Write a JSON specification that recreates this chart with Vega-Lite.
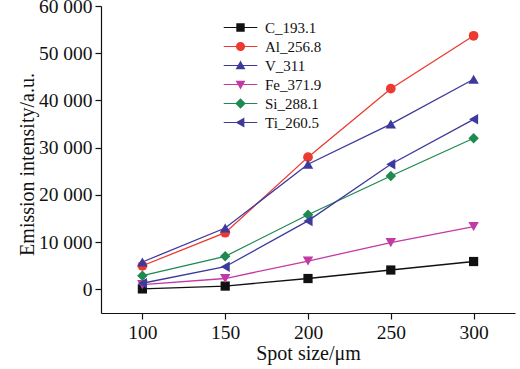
{
  "$schema": "https://vega.github.io/schema/vega-lite/v6.json",
  "width": 414,
  "height": 307,
  "autosize": {"type": "none"},
  "padding": {"left": 101, "top": 6, "right": 5, "bottom": 56},
  "background": "white",
  "config": {
    "view": {"stroke": null},
    "font": "Liberation Serif",
    "axis": {
      "domainColor": "#111",
      "tickColor": "#111",
      "domainWidth": 1.2,
      "tickWidth": 1.2,
      "tickSize": 6,
      "labelFont": "Liberation Serif",
      "labelFontSize": 19.5,
      "labelColor": "#111",
      "labelPadding": 3,
      "titleFont": "Liberation Serif",
      "titleFontSize": 20,
      "titleFontWeight": "normal",
      "titleColor": "#111",
      "grid": false
    },
    "legend": {
      "labelFont": "Liberation Serif",
      "labelFontSize": 15,
      "labelColor": "#111"
    }
  },
  "data": {
    "values": [
      {"s": "C_193.1", "x": 100, "y": 100},
      {"s": "C_193.1", "x": 150, "y": 700},
      {"s": "C_193.1", "x": 200, "y": 2300},
      {"s": "C_193.1", "x": 250, "y": 4100},
      {"s": "C_193.1", "x": 300, "y": 5900},
      {"s": "Al_256.8", "x": 100, "y": 5000},
      {"s": "Al_256.8", "x": 150, "y": 12000},
      {"s": "Al_256.8", "x": 200, "y": 28000},
      {"s": "Al_256.8", "x": 250, "y": 42500},
      {"s": "Al_256.8", "x": 300, "y": 53700},
      {"s": "V_311", "x": 100, "y": 5800},
      {"s": "V_311", "x": 150, "y": 13000},
      {"s": "V_311", "x": 200, "y": 26500},
      {"s": "V_311", "x": 250, "y": 35000},
      {"s": "V_311", "x": 300, "y": 44500},
      {"s": "Fe_371.9", "x": 100, "y": 1000},
      {"s": "Fe_371.9", "x": 150, "y": 2300},
      {"s": "Fe_371.9", "x": 200, "y": 6000},
      {"s": "Fe_371.9", "x": 250, "y": 9900},
      {"s": "Fe_371.9", "x": 300, "y": 13300},
      {"s": "Si_288.1", "x": 100, "y": 2900},
      {"s": "Si_288.1", "x": 150, "y": 7000},
      {"s": "Si_288.1", "x": 200, "y": 15800},
      {"s": "Si_288.1", "x": 250, "y": 24000},
      {"s": "Si_288.1", "x": 300, "y": 32000},
      {"s": "Ti_260.5", "x": 100, "y": 1300},
      {"s": "Ti_260.5", "x": 150, "y": 4800},
      {"s": "Ti_260.5", "x": 200, "y": 14500},
      {"s": "Ti_260.5", "x": 250, "y": 26500},
      {"s": "Ti_260.5", "x": 300, "y": 36000}
    ]
  },
  "encoding": {
    "x": {
      "field": "x", "type": "quantitative",
      "scale": {"domain": [75, 325], "nice": false, "zero": false},
      "axis": {"values": [100, 150, 200, 250, 300], "title": "Spot size/μm", "labelPadding": 4, "titlePadding": 2}
    },
    "y": {
      "field": "y", "type": "quantitative",
      "scale": {"domain": [-5000, 60000], "nice": false, "zero": false},
      "axis": {
        "values": [0, 10000, 20000, 30000, 40000, 50000, 60000],
        "labelExpr": "replace(format(datum.value, ','), ',', ' ')",
        "title": "Emission intensity/a.u.",
        "titlePadding": 1,
        "titleY": 158
      }
    }
  },
  "layer": [
    {
      "mark": {"type": "line", "strokeWidth": 1.3},
      "encoding": {
        "color": {
          "field": "s", "type": "nominal",
          "scale": {
            "domain": ["C_193.1", "Al_256.8", "V_311", "Fe_371.9", "Si_288.1", "Ti_260.5"],
            "range": ["#111111", "#ec3a30", "#3d3a9c", "#c23aa6", "#1f8a50", "#3d3a9c"]
          },
          "legend": {
            "title": null,
            "orient": "none",
            "legendX": 132,
            "legendY": 14,
            "padding": 0,
            "symbolSize": 196,
            "symbolOpacity": 1,
            "symbolStrokeWidth": 0,
            "labelOffset": 17,
            "rowPadding": 3
          }
        },
        "detail": {"field": "s"}
      }
    },
    {
      "transform": [{"filter": "datum.s == 'C_193.1'"}],
      "mark": {"type": "point", "shape": "square", "filled": true, "opacity": 1, "size": 85, "color": "#111111"}
    },
    {
      "transform": [{"filter": "datum.s == 'Al_256.8'"}],
      "mark": {"type": "point", "shape": "circle", "filled": true, "opacity": 1, "size": 95, "color": "#ec3a30"}
    },
    {
      "transform": [{"filter": "datum.s == 'V_311'"}],
      "mark": {"type": "point", "shape": "triangle-up", "filled": true, "opacity": 1, "size": 110, "color": "#3d3a9c"}
    },
    {
      "transform": [{"filter": "datum.s == 'Fe_371.9'"}],
      "mark": {"type": "point", "shape": "triangle-down", "filled": true, "opacity": 1, "size": 110, "color": "#c23aa6"}
    },
    {
      "transform": [{"filter": "datum.s == 'Si_288.1'"}],
      "mark": {"type": "point", "shape": "diamond", "filled": true, "opacity": 1, "size": 110, "color": "#1f8a50"}
    },
    {
      "transform": [{"filter": "datum.s == 'Ti_260.5'"}],
      "mark": {"type": "point", "shape": "triangle-left", "filled": true, "opacity": 1, "size": 110, "color": "#3d3a9c"}
    },
    {
      "mark": {"type": "point", "filled": true, "opacity": 0},
      "encoding": {
        "color": {
          "field": "s", "type": "nominal",
          "scale": {
            "domain": ["C_193.1", "Al_256.8", "V_311", "Fe_371.9", "Si_288.1", "Ti_260.5"],
            "range": ["#111111", "#ec3a30", "#3d3a9c", "#c23aa6", "#1f8a50", "#3d3a9c"]
          },
          "legend": {
            "title": null,
            "orient": "none",
            "legendX": 132,
            "legendY": 14,
            "padding": 0,
            "symbolSize": 196,
            "symbolOpacity": 1,
            "symbolStrokeWidth": 0,
            "labelOffset": 17,
            "rowPadding": 3
          }
        },
        "shape": {
          "field": "s", "type": "nominal",
          "legend": {
            "title": null,
            "orient": "none",
            "legendX": 132,
            "legendY": 14,
            "padding": 0,
            "symbolSize": 196,
            "symbolOpacity": 1,
            "symbolStrokeWidth": 0,
            "labelOffset": 17,
            "rowPadding": 3
          },
          "scale": {
            "domain": ["C_193.1", "Al_256.8", "V_311", "Fe_371.9", "Si_288.1", "Ti_260.5"],
            "range": [
              "M-2.4,-0.08H2.4V0.08H-2.4ZM-0.6,-0.6H0.6V0.6H-0.6Z",
              "M-2.4,-0.08H2.4V0.08H-2.4ZM-0.65,0A0.65,0.65 0 1,1 0.65,0A0.65,0.65 0 1,1 -0.65,0Z",
              "M-2.4,-0.08H2.4V0.08H-2.4ZM0,-0.7L0.7,0.55L-0.7,0.55Z",
              "M-2.4,-0.08H2.4V0.08H-2.4ZM-0.7,-0.55L0.7,-0.55L0,0.7Z",
              "M-2.4,-0.08H2.4V0.08H-2.4ZM0,-0.75L0.75,0L0,0.75L-0.75,0Z",
              "M-2.4,-0.08H2.4V0.08H-2.4ZM-0.7,0L0.55,-0.7L0.55,0.7Z"
            ]
          }
        }
      }
    }
  ]
}
